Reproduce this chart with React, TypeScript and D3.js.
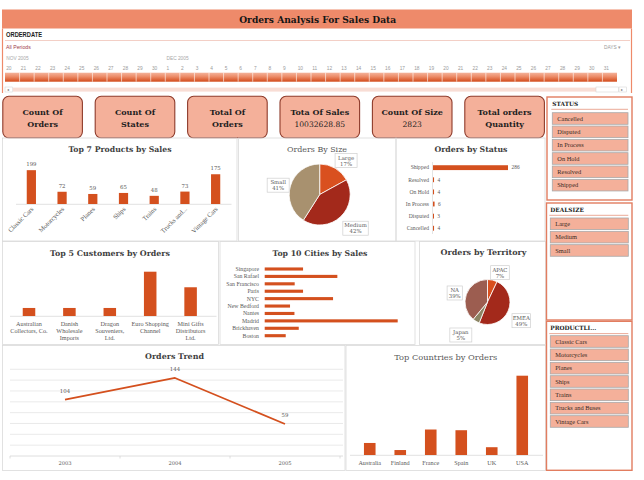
import React, { useEffect } from "react";
import * as d3 from "d3";

// ---------- DATA ----------
const productCats = ["Classic Cars", "Motorcycles", "Planes", "Ships", "Trains", "Trucks and...", "Vintage Cars"];
const productVals = [199, 72, 59, 65, 48, 73, 175];

const sizeCats = ["Large", "Medium", "Small"];
const sizeVals = [17, 42, 41];

const statusCats = ["Shipped", "Resolved", "On Hold", "In Process", "Disputed", "Cancelled"];
const statusVals = [286, 4, 4, 6, 3, 4];

const customerCats = [
  ["Australian", "Collectors, Co."],
  ["Danish", "Wholesale", "Imports"],
  ["Dragon", "Souveniers,", "Ltd."],
  ["Euro Shopping", "Channel"],
  ["Mini Gifts", "Distributors", "Ltd."],
];
const customerVals = [47, 47, 47, 259, 168];

const cityCats = ["Singapore", "San Rafael", "San Francisco", "Paris", "NYC", "New Bedford", "Nantes", "Madrid", "Brickhaven", "Boston"];
const cityVals = [312, 591, 244, 312, 556, 206, 242, 1082, 277, 171];

const territoryCats = ["APAC", "EMEA", "Japan", "NA"];
const territoryVals = [7, 49, 5, 39];

const trendYears = ["2003", "2004", "2005"];
const trendVals = [104, 144, 59];

const countryCats = ["Australia", "Finland", "France", "Spain", "UK", "USA"];
const countryVals = [17, 7, 36, 35, 11, 112];

const kpiLabels = [
  ["Count Of", "Orders"],
  ["Count Of", "States"],
  ["Total Of", "Orders"],
  ["Tota Of Sales"],
  ["Count Of Size"],
  ["Total orders", "Quantity"],
];
const kpiValues = ["", "", "", "10032628.85", "2823", ""];

const statusSlicer = ["Cancelled", "Disputed", "In Process", "On Hold", "Resolved", "Shipped"];
const dealSlicer = ["Large", "Medium", "Small"];
const productSlicer = ["Classic Cars", "Motorcycles", "Planes", "Ships", "Trains", "Trucks and Buses", "Vintage Cars"];

const dayLabels = [
  "20", "21", "22", "23", "24", "25", "26", "27", "28", "29", "30",
  "1", "2", "3", "4", "5", "6", "7", "8", "9", "10", "11", "12", "13", "14", "15", "16",
  "17", "18", "19", "20", "21", "22", "23", "24", "25", "26", "27", "28", "29", "30", "31",
];
const monthLabels = [
  { label: "NOV 2005", dayIndex: 0 },
  { label: "DEC 2005", dayIndex: 11 },
];

// ---------- STYLE ----------
const SLAB = "'DejaVu Serif', serif";
const SERIF = "'Liberation Serif', serif";
const SANS = "'Liberation Sans', Arial, sans-serif";
const BAR = "#D4501E";
const TITLEBAR = "#EE8A6A";
const KPI_FILL = "#F4B09A";
const KPI_STROKE = "#8E3B2B";
const SL_BORDER = "#E27D60";
const PANEL = "#DADADA";
const LABEL = "#595959";
const TITLE = "#3F3F3F";

function Title({ x, y, w, text, bold = true }: { x: number; y: number; w: number; text: string; bold?: boolean }) {
  return (
    <text x={x} y={y} textAnchor="middle" fontFamily={SLAB} fontWeight={bold ? "bold" : "normal"}
      fontSize={bold ? 7.8 : 8} fill={bold ? TITLE : LABEL} textLength={w} lengthAdjust="spacingAndGlyphs">
      {text}
    </text>
  );
}

function PieLabel({ x, y, name, pct }: { x: number; y: number; name: string; pct: string }) {
  const w = Math.max(name.length, pct.length) * 3.4 + 5;
  return (
    <g>
      <rect x={x - w / 2} y={y - 7} width={w} height={14} fill="#fff" stroke="#CFCFCF" strokeWidth={0.7} />
      <text x={x} y={y - 1} textAnchor="middle" fontFamily={SLAB} fontSize={5.4} fill={LABEL}>{name}</text>
      <text x={x} y={y + 5.2} textAnchor="middle" fontFamily={SLAB} fontSize={5.4} fill={LABEL}>{pct}</text>
    </g>
  );
}

function Pie({ cx, cy, r, cats, vals, colors, labelR, labelOff }: any) {
  const pie = d3.pie<number>().sort(null).value((d) => d)(vals);
  const arc = d3.arc<any>().innerRadius(0).outerRadius(r);
  const total = d3.sum(vals);
  return (
    <g>
      {pie.map((p, i) => (
        <path key={i} d={arc(p) as string} transform={`translate(${cx},${cy})`} fill={colors[i]} stroke="#fff" strokeWidth={0.8} />
      ))}
      {pie.map((p, i) => {
        const a = (p.startAngle + p.endAngle) / 2;
        const lr = labelR[i];
        return (
          <PieLabel key={"l" + i} x={cx + Math.sin(a) * lr + labelOff[i][0]} y={cy - Math.cos(a) * lr + labelOff[i][1]}
            name={cats[i]} pct={Math.round((vals[i] / total) * 100) + "%"} />
        );
      })}
    </g>
  );
}

function Slicer({ x, y, w, h, title, items, ix, iy, iw }: any) {
  return (
    <g>
      <rect x={x} y={y} width={w} height={h} fill="#fff" stroke={SL_BORDER} strokeWidth={1.4} />
      <text x={ix} y={y + 8.6} fontFamily={SLAB} fontWeight="bold" fontSize={5.8} fill="#1E1E1E">{title}</text>
      <line x1={ix - 1} x2={ix + iw} y1={y + 12.3} y2={y + 12.3} stroke="#E9A08C" strokeWidth={0.9} />
      {items.map((it: string, i: number) => (
        <g key={it}>
          <rect x={ix} y={iy + i * 13.33} width={iw} height={11.6} fill={KPI_FILL} stroke="#A9A9A9" strokeWidth={0.8} />
          <text x={ix + 5} y={iy + i * 13.33 + 8.1} fontFamily={SERIF} fontSize={6.4} fill="#3A2A22">{it}</text>
        </g>
      ))}
    </g>
  );
}

export default function App() {
  useEffect(() => {
    document.body.style.margin = "0";
  }, []);

  // timeline
  const dayX = d3.scaleBand<number>().domain(d3.range(dayLabels.length)).range([5, 617]);

  // products
  const px = d3.scaleBand<string>().domain(productCats).range([16, 231]).paddingInner(0.7).paddingOuter(0.35);
  const py = d3.scaleLinear().domain([0, 200]).range([204, 170]);

  // status
  const sy = d3.scaleBand<string>().domain(statusCats).range([161.6, 234.3]).paddingInner(0.6).paddingOuter(0.3);
  const sx = d3.scaleLinear().domain([0, 286]).range([433, 508]);

  // customers
  const cx = d3.scaleBand<number>().domain(d3.range(customerCats.length)).range([8.8, 210.8]).paddingInner(0.69).paddingOuter(0.345);
  const cy = d3.scaleLinear().domain([0, 259]).range([316, 271.7]);

  // cities
  const ty = d3.scaleBand<string>().domain(cityCats).range([265.3, 339.4]).paddingInner(0.58).paddingOuter(0.29);
  const tx = d3.scaleLinear().domain([0, 1082]).range([264.7, 397.7]);

  // trend
  const gx = d3.scaleBand<string>().domain(trendYears).range([10, 340]);
  const gy = d3.scaleLinear().domain([0, 160]).range([456, 369.3]);
  const line = d3.line<number>().x((_, i) => (gx(trendYears[i]) as number) + gx.bandwidth() / 2).y((d) => gy(d));

  // countries
  const kx = d3.scaleBand<string>().domain(countryCats).range([354.5, 537.5]).paddingInner(0.62).paddingOuter(0.31);
  const ky = d3.scaleLinear().domain([0, 112]).range([455, 375.7]);

  const kpiStep = 92.4;

  return (
    <div style={{ position: "absolute", left: 0, top: 0 }}>
      <svg width={644} height={480} style={{ display: "block", background: "#fff" }}>
        <defs>
          <linearGradient id="tl" x1="0" y1="0" x2="0" y2="1">
            <stop offset="0" stopColor="#F4B39B" />
            <stop offset="0.45" stopColor="#EC8A66" />
            <stop offset="1" stopColor="#D24A1A" />
          </linearGradient>
        </defs>

        {/* Title bar */}
        <rect x={2} y={9.5} width={630} height={19} fill={TITLEBAR} />
        <text x={317.7} y={23} textAnchor="middle" fontFamily={SLAB} fontWeight="bold" fontSize={9.6} fill="#151515"
          textLength={157} lengthAdjust="spacingAndGlyphs">Orders Analysis For Sales Data</text>

        {/* Timeline */}
        <line x1={2.5} x2={2.5} y1={28.5} y2={93} stroke={TITLEBAR} strokeWidth={1.2} />
        <line x1={631.5} x2={631.5} y1={28.5} y2={93} stroke={TITLEBAR} strokeWidth={1.2} />
        <text x={6} y={36.7} fontFamily={SANS} fontWeight="bold" fontSize={6.6} fill="#1E1E1E" textLength={36} lengthAdjust="spacingAndGlyphs">ORDERDATE</text>
        <line x1={5} x2={630} y1={40.5} y2={40.5} stroke="#F2C9C0" strokeWidth={0.9} />
        <text x={6} y={49} fontFamily={SANS} fontSize={5.2} fill="#A2404C">All Periods</text>
        <text x={604} y={48.5} fontFamily={SANS} fontSize={4.8} fill="#9A9A9A">DAYS ▾</text>
        {monthLabels.map((m) => (
          <text key={m.label} x={(dayX(m.dayIndex) as number) + 1.2} y={59.5} fontFamily={SANS} fontSize={4.8} fill="#A8A8A8">{m.label}</text>
        ))}
        {dayLabels.map((d, i) => (
          <text key={"d" + i} x={(dayX(i) as number) + 1.2} y={70} fontFamily={SANS} fontSize={4.8} fill="#9A9A9A">{d}</text>
        ))}
        <rect x={5} y={72.7} width={612} height={9} fill="url(#tl)" />
        {dayLabels.map((_, i) =>
          i > 0 ? <line key={"s" + i} x1={dayX(i) as number} x2={dayX(i) as number} y1={72.7} y2={81.7} stroke="#fff" strokeWidth={0.6} /> : null
        )}
        <rect x={13} y={87.6} width={583} height={4} fill="#F8DDD5" />
        <rect x={5} y={87} width={7.5} height={5} fill="#fff" stroke="#CFCFCF" strokeWidth={0.5} />
        <text x={7} y={91.2} fontFamily={SANS} fontSize={4} fill="#777">◂</text>
        <rect x={596} y={87} width={22.5} height={5} fill="#fff" stroke="#CFCFCF" strokeWidth={0.5} />
        <rect x={619} y={87} width={7.5} height={5} fill="#fff" stroke="#CFCFCF" strokeWidth={0.5} />
        <text x={621} y={91.2} fontFamily={SANS} fontSize={4} fill="#777">▸</text>

        {/* KPI cards */}
        {kpiLabels.map((lines, i) => {
          const x0 = 2.8 + i * kpiStep;
          const mid = x0 + 39.8;
          const second = kpiValues[i] ? kpiValues[i] : lines[1];
          return (
            <g key={"k" + i}>
              <rect x={x0} y={96.3} width={79.6} height={41.5} rx={6} fill={KPI_FILL} stroke={KPI_STROKE} strokeWidth={1.1} />
              <text x={mid} y={114.5} textAnchor="middle" fontFamily={SLAB} fontWeight="bold" fontSize={8} fill="#1E1E1E">{lines[0]}</text>
              <text x={mid} y={126.6} textAnchor="middle" fontFamily={SLAB} fontWeight={kpiValues[i] ? "normal" : "bold"}
                fontSize={kpiValues[i] ? 7.6 : 8} fill="#1E1E1E">{second}</text>
            </g>
          );
        })}

        {/* Panels */}
        <g fill="none" stroke={PANEL} strokeWidth={0.8}>
          <rect x={2.5} y={138} width={234.5} height={103} />
          <rect x={238.5} y={138} width={157.5} height={103} />
          <rect x={396} y={138} width={149} height={103} />
          <rect x={2.5} y={241.5} width={216} height={103} />
          <rect x={220} y={241.5} width={195} height={103} />
          <rect x={419.5} y={241.5} width={126} height={103} />
          <rect x={2.5} y={345.5} width={342.5} height={125} />
          <rect x={346} y={345.5} width={199.5} height={125} />
        </g>

        {/* Top 7 Products by Sales */}
        <Title x={120} y={151.5} w={103} text="Top 7 Products by Sales" />
        <line x1={16} x2={231.5} y1={204.3} y2={204.3} stroke="#D9D9D9" strokeWidth={0.8} />
        {productCats.map((c, i) => {
          const x = px(c) as number;
          const m = x + px.bandwidth() / 2;
          return (
            <g key={c}>
              <rect x={x} y={py(productVals[i])} width={px.bandwidth()} height={204 - py(productVals[i])} fill={BAR} />
              <text x={m} y={py(productVals[i]) - 4} textAnchor="middle" fontFamily={SLAB} fontSize={5.4} fill={LABEL}>{productVals[i]}</text>
              <text transform={`translate(${m + 2.5},${209.5}) rotate(-45)`} textAnchor="end" fontFamily={SERIF} fontSize={6.6} fill={LABEL}>{c}</text>
            </g>
          );
        })}

        {/* Orders By Size */}
        <Title x={317} y={151.5} w={60} text="Orders By Size" bold={false} />
        <Pie cx={319.7} cy={194.5} r={30.5} cats={sizeCats} vals={sizeVals}
          colors={["#D9501F", "#A3291B", "#A8916F"]} labelR={[42, 49, 42]}
          labelOff={[[5, 2.3], [2.3, -2], [-1.2, 2.4]]} />

        {/* Orders by Status */}
        <Title x={471} y={152} w={73} text="Orders by Status" />
        <line x1={432.5} x2={432.5} y1={162} y2={234} stroke="#D9D9D9" strokeWidth={0.7} />
        {statusCats.map((c, i) => {
          const y = sy(c) as number;
          const m = y + sy.bandwidth() / 2;
          return (
            <g key={c}>
              <text x={429} y={m + 1.8} textAnchor="end" fontFamily={SERIF} fontSize={5.6} fill={LABEL}>{c}</text>
              <rect x={433} y={y} width={Math.max(sx(statusVals[i]) - 433, 1)} height={sy.bandwidth()} fill={BAR} />
              <text x={sx(statusVals[i]) + 3.5} y={m + 1.8} fontFamily={SERIF} fontSize={5.4} fill={LABEL}>{statusVals[i]}</text>
            </g>
          );
        })}

        {/* Top 5 Customers by Orders */}
        <Title x={110} y={255.5} w={120} text="Top 5 Customers by Orders" />
        <line x1={10} x2={216.5} y1={316.3} y2={316.3} stroke="#D9D9D9" strokeWidth={0.8} />
        {customerCats.map((lines, i) => {
          const x = cx(i) as number;
          const m = x + cx.bandwidth() / 2;
          return (
            <g key={"c" + i}>
              <rect x={x} y={cy(customerVals[i])} width={cx.bandwidth()} height={316 - cy(customerVals[i])} fill={BAR} />
              {lines.map((l, j) => (
                <text key={j} x={m} y={326 + j * 7} textAnchor="middle" fontFamily={SERIF} fontSize={6.2} fill={LABEL}>{l}</text>
              ))}
            </g>
          );
        })}

        {/* Top 10 Cities by Sales */}
        <Title x={320} y={255.5} w={95} text="Top 10 Cities by Sales" />
        {cityCats.map((c, i) => {
          const y = ty(c) as number;
          const m = y + ty.bandwidth() / 2;
          return (
            <g key={c}>
              <text x={259} y={m + 1.9} textAnchor="end" fontFamily={SERIF} fontSize={5.8} fill={LABEL}>{c}</text>
              <rect x={264.7} y={y} width={tx(cityVals[i]) - 264.7} height={ty.bandwidth()} fill={BAR} />
            </g>
          );
        })}

        {/* Orders by Territory */}
        <Title x={483.5} y={255} w={86} text="Orders by Territory" />
        <Pie cx={487.5} cy={302} r={22.5} cats={territoryCats} vals={territoryVals}
          colors={["#D9501F", "#A3291B", "#8C8564", "#9C5D50"]} labelR={[32, 39, 41, 34]}
          labelOff={[[5.5, 1.9], [-2, 3.2], [-5.8, -2.3], [-0.8, 2.5]]} />

        {/* Orders Trend */}
        <Title x={174.5} y={359} w={59} text="Orders Trend" />
        {gy.ticks(8).filter((t) => t > 0).map((t) => (
          <line key={"g" + t} x1={10} x2={343} y1={gy(t)} y2={gy(t)} stroke="#E4E4E4" strokeWidth={0.8} />
        ))}
        <line x1={10} x2={343} y1={gy(0)} y2={gy(0)} stroke="#D6D6D6" strokeWidth={0.8} />
        {[...trendYears.map((y) => gx(y) as number), 340].map((x, i) => (
          <line key={"tk" + i} x1={x} x2={x} y1={gy(0)} y2={gy(0) + 2.5} stroke="#D6D6D6" strokeWidth={0.8} />
        ))}
        <path d={line(trendVals) as string} fill="none" stroke={BAR} strokeWidth={1.8} strokeLinejoin="round" />
        {trendVals.map((v, i) => {
          const m = (gx(trendYears[i]) as number) + gx.bandwidth() / 2;
          return (
            <g key={"tv" + i}>
              <text x={m} y={gy(v) - 7} textAnchor="middle" fontFamily={SLAB} fontSize={5.4} fill={LABEL}>{v}</text>
              <text x={m} y={465} textAnchor="middle" fontFamily={SLAB} fontSize={5.2} fill={LABEL}>{trendYears[i]}</text>
            </g>
          );
        })}

        {/* Top Countries by Orders */}
        <Title x={445.7} y={359.5} w={103} text="Top Countries by Orders" bold={false} />
        <line x1={350} x2={543} y1={455.3} y2={455.3} stroke="#D9D9D9" strokeWidth={0.8} />
        {countryCats.map((c, i) => {
          const x = kx(c) as number;
          const m = x + kx.bandwidth() / 2;
          return (
            <g key={c}>
              <rect x={x} y={ky(countryVals[i])} width={kx.bandwidth()} height={455 - ky(countryVals[i])} fill={BAR} />
              <text x={m} y={464.5} textAnchor="middle" fontFamily={SERIF} fontSize={6.2} fill={LABEL}>{c}</text>
            </g>
          );
        })}

        {/* Slicers */}
        <Slicer x={547} y={97} w={85} h={103} title="STATUS" items={statusSlicer} ix={552.3} iy={112.7} iw={75.7} />
        <Slicer x={546.5} y={203} w={85.5} h={117} title="DEALSIZE" items={dealSlicer} ix={550.3} iy={218} iw={78} />
        <Slicer x={546.5} y={321.3} w={85.5} h={149} title="PRODUCTLI..." items={productSlicer} ix={550.3} iy={335.7} iw={78} />
      </svg>
    </div>
  );
}
